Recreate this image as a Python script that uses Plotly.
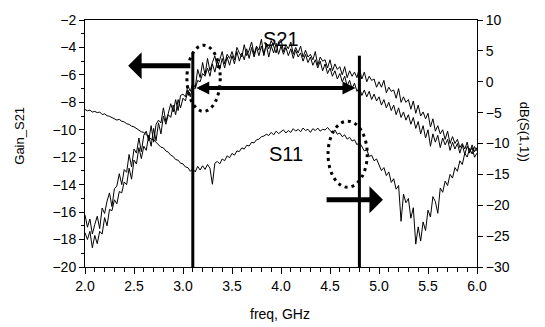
import plotly.graph_objects as go

# frequency sweep (GHz), 0.025 GHz step, 2.0 .. 6.0
freq = [round(2.0 + 0.025 * i, 3) for i in range(161)]

# Gain_S21 (left axis), two measured traces
s21_a = [-16.2, -17.1, -16.5, -17.6, -16.9, -16.3, -17.2, -15.7, -16.1, -15.2,
         -14.6, -15.6, -14.3, -14.1, -13.2, -14.0, -12.9, -13.1, -11.8, -12.7,
         -11.4, -11.7, -10.6, -11.6, -10.4, -10.1, -10.8, -9.7, -10.9, -9.6,
         -9.3, -9.5, -8.4, -9.4, -8.8, -8.1, -8.7, -7.8, -8.6, -7.5,
         -7.4, -7.6, -6.8, -7.2, -6.6, -6.9, -5.6, -6.2, -5.1, -6.0,
         -4.8, -5.7, -5.1, -4.6, -5.5, -4.9, -4.3, -5.2, -4.5, -4.8,
         -4.3, -4.9, -4.0, -4.4, -4.7, -3.8, -4.6, -4.2, -3.6, -4.5,
         -3.9, -4.2, -3.4, -4.6, -3.7, -4.1, -3.5, -3.9, -4.4, -3.6,
         -3.4, -4.3, -3.8, -4.1, -3.6, -4.5, -4.0, -4.4, -3.9, -4.7,
         -4.2, -4.7, -4.5, -4.9, -4.3, -5.3, -4.7, -5.0, -4.9, -5.5,
         -4.9, -5.7, -5.2, -5.6, -5.4, -6.0, -5.4, -6.2, -5.7, -6.1,
         -5.8, -6.2, -5.5, -6.3, -5.8, -6.5, -6.1, -6.4, -6.3, -6.9,
         -6.5, -6.9, -6.4, -7.3, -6.9, -7.2, -7.1, -7.7, -7.0, -8.0,
         -7.6, -8.0, -7.8, -8.5, -7.9, -8.8, -8.2, -9.0, -8.7, -9.2,
         -8.8, -9.8, -9.2, -10.1, -9.7, -10.3, -10.0, -10.7, -10.1, -11.0,
         -10.5, -11.0, -10.7, -11.3, -11.0, -11.4, -10.9, -11.7, -11.1, -11.6,
         -11.3]
s21_b = [-17.5, -18.0, -17.4, -18.6, -17.7, -18.3, -17.4, -17.6, -16.4, -17.0,
         -15.8, -15.9, -15.1, -15.4, -14.5, -14.6, -13.8, -14.0, -12.8, -13.6,
         -12.2, -12.5, -11.3, -12.1, -11.2, -11.5, -10.4, -11.2, -9.9, -10.8,
         -9.5, -10.3, -9.0, -9.6, -8.9, -9.1, -8.2, -8.9, -7.8, -8.4,
         -7.7, -7.9, -7.1, -7.6, -6.9, -7.0, -6.4, -6.5, -5.9, -6.1,
         -5.5, -6.1, -5.2, -5.8, -5.0, -5.6, -4.8, -5.5, -4.7, -5.3,
         -4.6, -5.2, -4.3, -5.0, -4.4, -4.9, -4.1, -4.8, -4.0, -4.7,
         -4.0, -4.6, -3.9, -4.5, -3.8, -4.7, -3.9, -4.4, -3.7, -4.5,
         -3.9, -4.5, -4.0, -4.6, -4.1, -4.8, -4.2, -4.7, -4.4, -5.0,
         -4.5, -5.1, -4.7, -5.3, -4.9, -5.5, -5.0, -5.7, -5.2, -5.9,
         -5.5, -6.1, -5.7, -6.3, -5.9, -6.5, -6.1, -6.8, -6.4, -7.0,
         -6.6, -7.2, -6.9, -7.5, -7.1, -7.6, -7.2, -7.8, -7.4, -7.9,
         -7.6, -8.2, -7.8, -8.4, -8.0, -8.6, -8.2, -8.9, -8.4, -9.1,
         -8.7, -9.3, -8.9, -9.6, -9.1, -9.9, -9.4, -10.3, -9.7, -10.6,
         -10.0, -11.2, -10.3, -10.9, -10.4, -11.3, -10.6, -11.1, -10.7, -11.5,
         -10.9, -11.4, -11.0, -11.7, -11.1, -11.8, -11.2, -11.6, -11.3, -12.0,
         -11.7]

# dB(S(1,1)) (right axis)
s11 = [-4.5, -4.7, -4.6, -4.9, -4.8, -5.0, -4.9, -5.3, -5.2, -5.5,
       -5.6, -5.8, -5.9, -6.2, -6.1, -6.4, -6.5, -6.8, -6.9, -7.2,
       -7.3, -7.6, -7.8, -8.1, -8.2, -8.6, -8.9, -9.3, -9.4, -9.8,
       -10.1, -10.6, -10.7, -11.2, -11.4, -11.9, -12.1, -12.6, -12.7, -13.2,
       -13.3, -13.8, -13.9, -14.5, -14.1, -14.6, -13.7, -14.3, -13.6, -14.2,
       -13.4, -14.0, -16.6, -13.2, -12.9, -13.3, -12.5, -12.8, -12.0, -12.3,
       -11.6, -11.9, -11.2, -11.3, -10.7, -10.9, -10.3, -10.4, -9.8, -9.9,
       -9.4, -9.3, -8.9, -8.8, -8.5, -8.7, -8.2, -8.6, -8.0, -8.4,
       -8.1, -7.8, -8.3, -7.9, -8.2, -7.6, -8.0, -7.7, -8.1, -7.5,
       -7.9, -7.7, -8.2, -7.6, -7.9, -7.5, -8.0, -7.7, -7.8, -7.4,
       -7.9, -8.2, -7.8, -8.5, -8.3, -8.9, -8.6, -9.3, -9.0, -9.6,
       -9.4, -10.2, -9.8, -10.6, -11.2, -11.0, -12.1, -11.9, -12.8, -12.5,
       -13.6, -14.4, -13.9, -15.2, -14.6, -16.3, -15.7, -17.4, -16.8, -22.6,
       -18.2, -19.6, -18.9, -22.1, -20.4, -26.3, -23.5, -25.8, -22.7, -24.1,
       -20.8, -21.9, -18.6, -19.4, -21.3, -17.2, -17.9, -16.1, -16.8, -15.0,
       -15.6, -13.9, -14.5, -12.8, -13.4, -11.6, -12.2, -10.8, -11.7, -10.5,
       -11.2]

x_ticks = [2.0, 2.5, 3.0, 3.5, 4.0, 4.5, 5.0, 5.5, 6.0]
band_edges = [3.1, 4.8]

FONT = "Liberation Sans, Arial, sans-serif"
line = dict(color="black", width=1)

fig = go.Figure()
fig.add_trace(go.Scatter(x=freq, y=s21_a, mode="lines", line=line, yaxis="y"))
fig.add_trace(go.Scatter(x=freq, y=s21_b, mode="lines", line=line, yaxis="y"))
fig.add_trace(go.Scatter(x=freq, y=s11, mode="lines", line=line, yaxis="y2"))

# band edge vertical lines
for xe, top in zip(band_edges, [-4.4, -4.6]):
    fig.add_shape(type="line", x0=xe, x1=xe, y0=-20, y1=top, xref="x", yref="y",
                  line=dict(color="black", width=3))

# dotted ellipses
fig.add_shape(type="circle", x0=3.04, x1=3.38, y0=-8.66, y1=-3.84, xref="x", yref="y",
              line=dict(color="black", width=3, dash="3px,4px"))
fig.add_shape(type="circle", x0=4.48, x1=4.88, y0=-14.19, y1=-9.37, xref="x", yref="y",
              line=dict(color="black", width=3, dash="3px,4px"))

anns = []
# left arrow (S21 -> left axis)
anns.append(dict(x=2.44, y=-5.33, ax=3.09, ay=-5.33, xref="x", yref="y", axref="x", ayref="y",
                 text="", showarrow=True, arrowhead=1, arrowsize=0.9, arrowwidth=5, arrowcolor="black"))
# right arrow (S11 -> right axis)
anns.append(dict(x=5.04, y=-15.1, ax=4.45, ay=-15.1, xref="x", yref="y", axref="x", ayref="y",
                 text="", showarrow=True, arrowhead=1, arrowsize=0.9, arrowwidth=5, arrowcolor="black"))
# double arrow bandwidth
anns.append(dict(x=4.76, y=-6.96, ax=3.12, ay=-6.96, xref="x", yref="y", axref="x", ayref="y",
                 text="", showarrow=True, arrowhead=2, startarrowhead=2, arrowside="end+start",
                 arrowsize=0.65, arrowwidth=4, arrowcolor="black"))
# labels
anns.append(dict(x=4.0, y=-3.42, xref="x", yref="y", text="S21", showarrow=False,
                 font=dict(family=FONT, size=20, color="black")))
anns.append(dict(x=4.05, y=-11.75, xref="x", yref="y", text="S11", showarrow=False,
                 font=dict(family=FONT, size=20, color="black")))
# axis titles
anns.append(dict(x=20, y=132, xref="paper", yref="paper", text="Gain_S21", showarrow=False,
                 textangle=-90, font=dict(family=FONT, size=13, color="black")))
anns.append(dict(x=524, y=128, xref="paper", yref="paper", text="dB(S(1,1))", showarrow=False,
                 textangle=90, font=dict(family=FONT, size=13, color="black")))
anns.append(dict(x=280, y=315, xref="paper", yref="paper", text="freq, GHz", showarrow=False,
                 font=dict(family=FONT, size=14, color="black")))

# convert pixel positions of titles into paper coords
L, R, T, B = 85, 68, 13, 60
W, H = 545, 327
pw, ph = W - L - R, H - T - B
for a in anns:
    if a.get("xref") == "paper":
        a["x"] = (a["x"] - L) / pw
        a["y"] = (H - B - a["y"]) / ph
        a["xanchor"] = "center"
        a["yanchor"] = "middle"
fig.update_layout(annotations=anns)

fig.update_layout(
    width=W, height=H,
    margin=dict(l=L, r=R, t=T, b=B),
    paper_bgcolor="white", plot_bgcolor="white",
    showlegend=False,
    font=dict(family=FONT, size=14, color="black"),
    xaxis=dict(range=[2.0, 6.0], tickvals=x_ticks, tickformat=".1f",
               showline=True, linecolor="black", linewidth=1, mirror=True,
               ticks="outside", ticklen=6, tickcolor="black",
               minor=dict(dtick=0.1, ticks="outside", ticklen=4, tickcolor="black"),
               showgrid=False, zeroline=False),
    yaxis=dict(range=[-20, -2], dtick=2, showline=True, linecolor="black", linewidth=1,
               ticks="outside", ticklen=5, tickcolor="black",
               minor=dict(dtick=1, ticks="outside", ticklen=3, tickcolor="black"),
               showgrid=False, zeroline=False),
    yaxis2=dict(range=[-30, 10], dtick=5, overlaying="y", side="right",
                showline=True, linecolor="black", linewidth=1,
                ticks="outside", ticklen=5, tickcolor="black",
                showgrid=False, zeroline=False),
)

fig.write_html("out.html")
